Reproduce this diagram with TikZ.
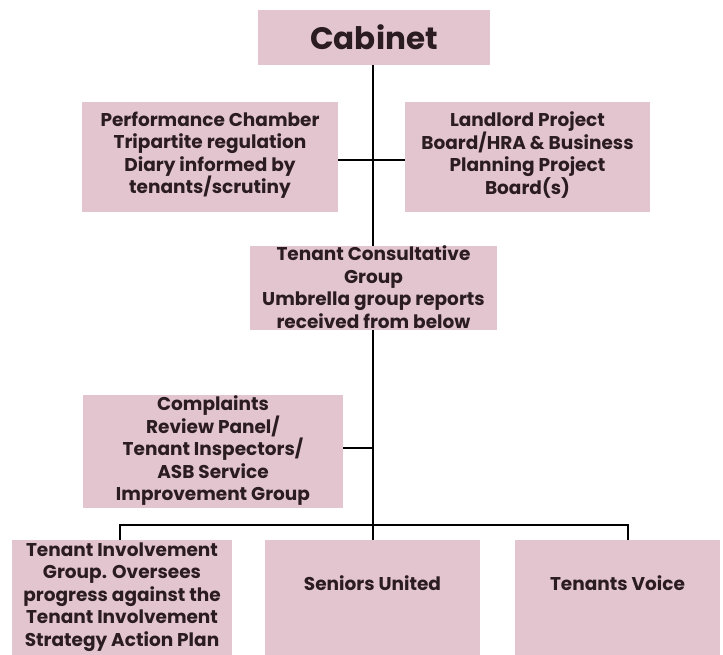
\documentclass[tikz,border=0pt]{standalone}
\usepackage{fontspec}
\setmainfont{Poppins}[BoldFont={* Bold}]
\definecolor{boxpink}{HTML}{E3C5CF}
\definecolor{ink}{HTML}{2B1C22}
\begin{document}
\begin{tikzpicture}[x=1pt,y=-1pt,
  orgbox/.style={fill=boxpink, draw=none, inner sep=0pt, text=ink,
    font=\bfseries\fontsize{18.5}{22.5}\selectfont, align=center},
  link/.style={draw=black, line width=1.1pt}]
\useasboundingbox (0,0) rectangle (723,655);
% boxes drawn as filled rectangles, labels as nodes on top
\fill[boxpink] (258,10) rectangle (490,65);
\node[orgbox] (cab) at (374,37.5) {\fontsize{31}{34}\selectfont Cabinet};
\fill[boxpink] (82,102) rectangle (338,212);
\node[orgbox] (perf) at (210,155) {Performance Chamber\\Tripartite regulation\\Diary informed by\\tenants/scrutiny};
\fill[boxpink] (405,102) rectangle (650,212);
\node[orgbox] (land) at (527.5,155) {Landlord Project\\Board/HRA \& Business\\Planning Project\\Board(s)};
\fill[boxpink] (250,246) rectangle (497,330);
\node[orgbox] (tcg) at (373.5,287) {Tenant Consultative\\Group\\Umbrella group reports\\received from below};
\fill[boxpink] (83,395) rectangle (343,508);
\node[orgbox] (comp) at (213,451) {Complaints\\Review Panel/\\Tenant Inspectors/\\ASB Service\\Improvement Group};
\fill[boxpink] (12,540) rectangle (232,655);
\node[orgbox] (tig) at (122,597) {Tenant Involvement\\Group. Oversees\\progress against the\\Tenant Involvement\\Strategy Action Plan};
\fill[boxpink] (265,540) rectangle (480,655);
\node[orgbox] (sen) at (372.5,583) {Seniors United};
\fill[boxpink] (515,540) rectangle (720,655);
\node[orgbox] (tv) at (617.5,583) {Tenants Voice};
% connectors
\coordinate (cabB) at (373,65);
\coordinate (tcgT) at (373,246);
\coordinate (tcgB) at (373,330);
\coordinate (j1) at (373,160);
\coordinate (j2) at (373,448);
\coordinate (perfR) at (338,160);
\coordinate (landL) at (405,160);
\coordinate (compR) at (343,448);
\coordinate (busL) at (120,525);
\coordinate (busR) at (628,525);
\coordinate (tigT) at (120,540);
\coordinate (senT) at (373,540);
\coordinate (tvT) at (628,540);
\draw[link] (cabB) -- (tcgT);
\draw[link] (perfR) -- (j1) -- (landL);
\draw[link] (tcgB) -- (senT);
\draw[link] (compR) -- (j2);
\draw[link] (tigT) -- (busL) -- (busR) -- (tvT);
\end{tikzpicture}
\end{document}
